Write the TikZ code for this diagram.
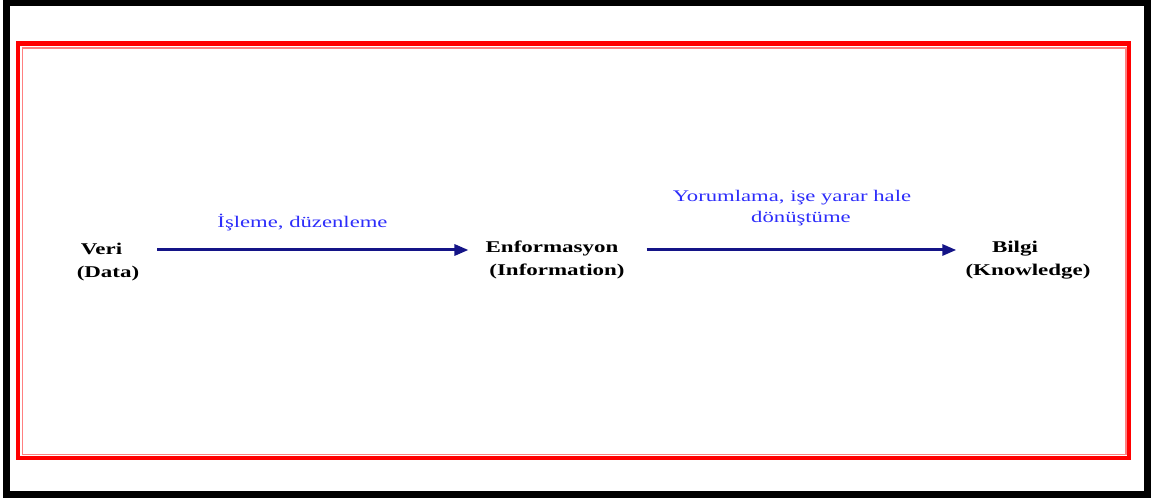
\documentclass[tikz,border=0pt]{standalone}
\usepackage{fontspec}
\setmainfont{Liberation Serif}[FakeStretch=1.4]
\usetikzlibrary{arrows.meta}
\definecolor{labelblue}{RGB}{45,45,250}
\definecolor{arrowblue}{RGB}{20,20,135}
\definecolor{frame}{RGB}{0,0,0}
\tikzset{
  stage/.style={inner sep=0pt, align=center, anchor=base,
    font=\fontsize{16.4}{23}\selectfont\bfseries},
  steplabel/.style={inner sep=0pt, align=center, anchor=base, text=labelblue,
    font=\fontsize{16.2}{21.5}\selectfont},
  flow/.style={draw=arrowblue, line width=3pt,
    -{Triangle[length=14pt,width=11pt]}},
}
\begin{document}
\begin{tikzpicture}[x=1pt,y=1pt]
  \useasboundingbox (0,0) rectangle (1151,500);
  % outer black frame and inner red double frame
  \draw[frame, line width=6.5pt] (6.7,5.5) rectangle (1147.5,497);
  \draw[red, line width=4.5pt] (18,42) rectangle (1129,456.5);
  \draw[red!50, line width=1.5pt] (22.5,45.5) rectangle (1126,452);

  % stages (base anchor sits on the lower line)
  \node[stage] (veri) at (108,222) {Veri\hspace*{13pt}\\(Data)};
  \node[stage] (enf) at (557,224) {Enformasyon\hspace*{10pt}\\(Information)};
  \node[stage] (bilgi) at (1028,224) {Bilgi\hspace*{26pt}\\(Knowledge)};

  % transitions
  \coordinate (row) at (0,250);
  \draw[flow, shorten <=18pt, shorten >=17pt] (veri.east |- row) -- (enf.west |- row);
  \draw[flow, shorten <=18pt, shorten >=9pt] (enf.east |- row) -- (bilgi.west |- row);

  \node[steplabel] (isleme) at (302.5,272) {İşleme, düzenleme};
  \node[steplabel] (yorum) at (801,277) {Yorumlama, işe yarar hale\hspace*{18pt}\\dönüştüme};
\end{tikzpicture}
\end{document}
